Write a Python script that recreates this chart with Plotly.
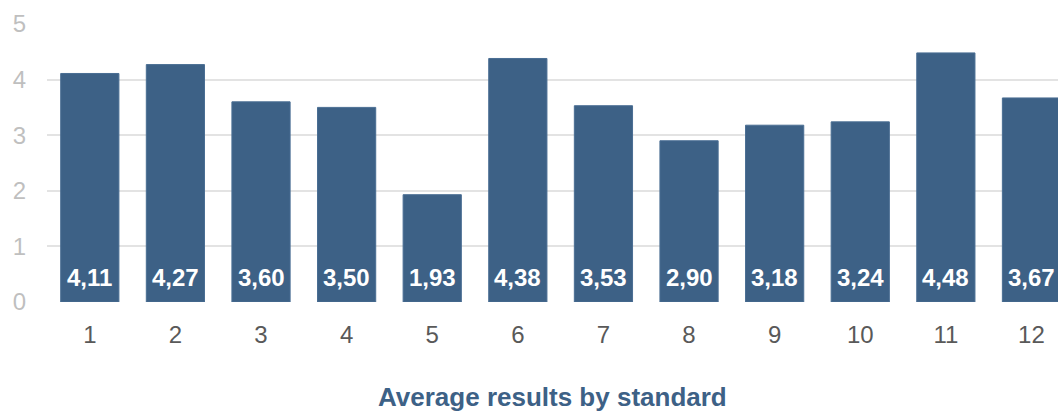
import plotly.graph_objects as go

# Average score per standard
standards = ["1", "2", "3", "4", "5", "6", "7", "8", "9", "10", "11", "12"]
averages = [4.11, 4.27, 3.60, 3.50, 1.93, 4.38, 3.53, 2.90, 3.18, 3.24, 4.48, 3.67]
y_ticks = [0, 1, 2, 3, 4, 5]

BAR_COLOR = "#3d6186"
FONT = "Liberation Sans, Arial, sans-serif"

fig = go.Figure()
fig.add_trace(go.Bar(
    x=list(range(len(standards))),
    y=averages,
    marker=dict(color=BAR_COLOR, line=dict(color="#4a6e93", width=1)),
    hoverinfo="skip",
))

# value labels sitting near the bottom of each bar, decimal comma
for i, v in enumerate(averages):
    fig.add_annotation(
        x=i, y=0, xref="x", yref="y",
        text=f"<b>{v:.2f}</b>".replace(".", ","),
        showarrow=False, yanchor="middle", yshift=25,
        font=dict(family=FONT, size=24, color="white"),
    )

fig.add_annotation(
    x=0.5, y=-0.34, xref="paper", yref="paper",
    text="<b>Average results by standard</b>",
    showarrow=False, xanchor="center", yanchor="middle",
    font=dict(family=FONT, size=26, color=BAR_COLOR),
)

fig.update_layout(
    width=1058, height=413,
    margin=dict(l=47, r=0, t=24, b=111),
    plot_bgcolor="white", paper_bgcolor="white",
    bargap=0.32,
    showlegend=False,
    font=dict(family=FONT),
    xaxis=dict(
        tickmode="array",
        tickvals=list(range(len(standards))),
        ticktext=standards,
        range=[-0.5, 11.31],
        showgrid=False, zeroline=False, showline=False,
        tickfont=dict(size=24, color="#595959"),
        ticklabelstandoff=16,
    ),
    yaxis=dict(
        range=[0, 5],
        tickvals=y_ticks,
        showgrid=True, gridcolor="#e3e3e3", gridwidth=2,
        zeroline=False, showline=False,
        tickfont=dict(size=24, color="#bfbfbf"),
        ticklabelstandoff=20,
    ),
)

fig.write_html("out.html")
